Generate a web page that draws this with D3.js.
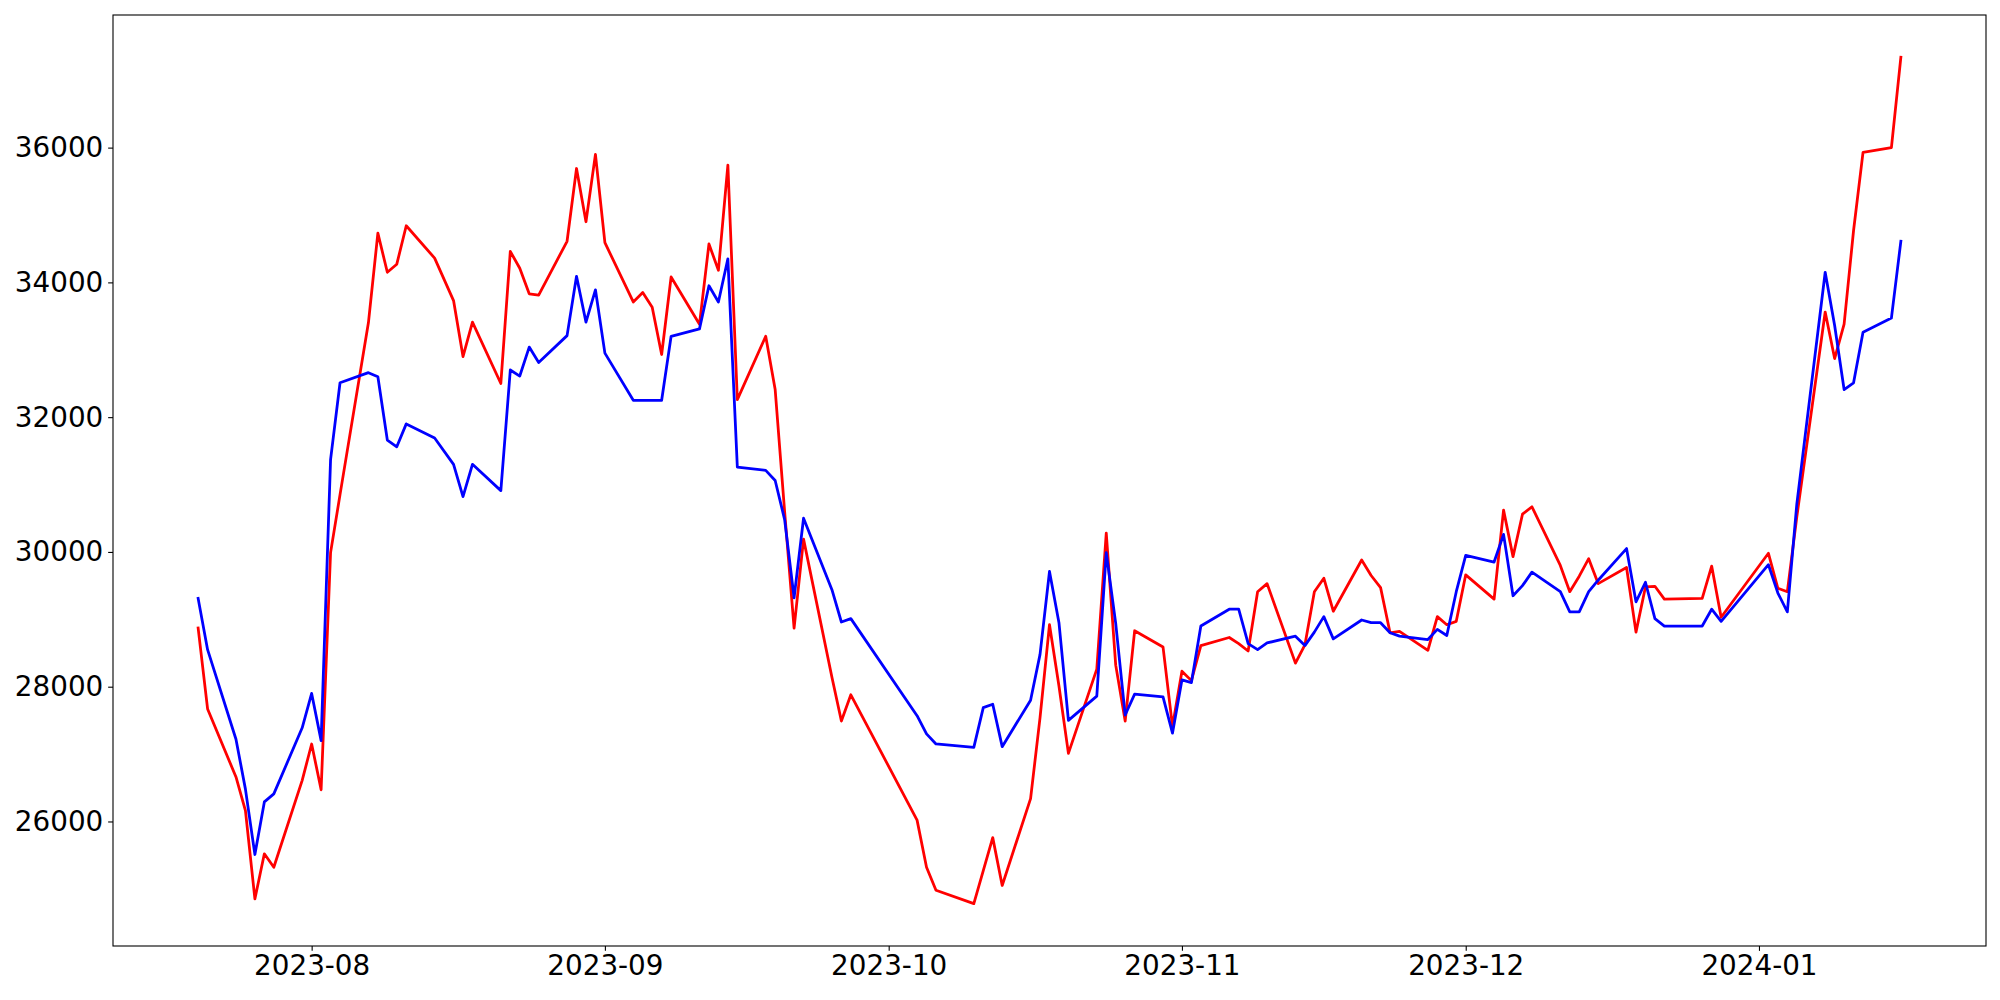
<!DOCTYPE html>
<html>
<head>
<meta charset="utf-8">
<script src="https://cdn.jsdelivr.net/npm/d3@7"></script>
<style>
  html, body { margin: 0; padding: 0; background: #fff; }
  svg { display: block; }
  .tick text { font-family: "DejaVu Sans", sans-serif; font-size: 27.8px; fill: #000; }
</style>
</head>
<body>
<svg id="chart" width="2000" height="1000"></svg>
<script>
const dates = [
  "2023-07-20","2023-07-21","2023-07-24","2023-07-25","2023-07-26","2023-07-27","2023-07-28","2023-07-31",
  "2023-08-01","2023-08-02","2023-08-03","2023-08-04","2023-08-07","2023-08-08","2023-08-09","2023-08-10",
  "2023-08-11","2023-08-14","2023-08-16","2023-08-17","2023-08-18","2023-08-21","2023-08-22","2023-08-23",
  "2023-08-24","2023-08-25","2023-08-28","2023-08-29","2023-08-30","2023-08-31",
  "2023-09-01","2023-09-04","2023-09-05","2023-09-06","2023-09-07","2023-09-08","2023-09-11","2023-09-12",
  "2023-09-13","2023-09-14","2023-09-15","2023-09-18","2023-09-19","2023-09-20","2023-09-21","2023-09-22",
  "2023-09-25","2023-09-26","2023-09-27",
  "2023-10-04","2023-10-05","2023-10-06","2023-10-10","2023-10-11","2023-10-12","2023-10-13","2023-10-16",
  "2023-10-17","2023-10-18","2023-10-19","2023-10-20","2023-10-23","2023-10-24","2023-10-25","2023-10-26",
  "2023-10-27","2023-10-30","2023-10-31",
  "2023-11-01","2023-11-02","2023-11-03","2023-11-06","2023-11-07","2023-11-08","2023-11-09","2023-11-10",
  "2023-11-13","2023-11-14","2023-11-15","2023-11-16","2023-11-17","2023-11-20","2023-11-21","2023-11-22",
  "2023-11-23","2023-11-24","2023-11-27","2023-11-28","2023-11-29","2023-11-30",
  "2023-12-01","2023-12-04","2023-12-05","2023-12-06","2023-12-07","2023-12-08","2023-12-11","2023-12-12",
  "2023-12-13","2023-12-14","2023-12-15","2023-12-18","2023-12-19","2023-12-20","2023-12-21","2023-12-22",
  "2023-12-26","2023-12-27","2023-12-28",
  "2024-01-02","2024-01-03","2024-01-04","2024-01-05","2024-01-08","2024-01-09","2024-01-10","2024-01-11",
  "2024-01-12","2024-01-15","2024-01-16"
];

const redSeries = [
  28870,27670,26660,26160,24850,25520,25320,26610,
  27150,26470,29990,30850,33400,34730,34150,34270,
  34840,34360,33730,32900,33410,32500,34460,34210,
  33830,33810,34610,35690,34900,35900,
  34590,33710,33850,33630,32930,34080,33380,34570,
  34180,35740,32260,33200,32410,30600,28870,30190,
  28140,27490,27880,
  26020,25320,24980,24780,25270,25760,25050,26340,
  27540,28920,28010,27010,28260,30280,28320,27490,
  28830,28590,27410,
  28230,28090,28610,28730,28640,28530,29410,29530,
  28350,28620,29410,29610,29120,29880,29650,29470,
  28800,28820,28540,29040,28920,28970,
  29660,29300,30620,29930,30560,30670,29800,29410,
  29640,29900,29530,29770,28810,29480,29490,29300,
  29310,29790,29030,
  29980,29460,29410,30520,33560,32870,33380,34770,
  35930,36000,37340
];

const blueSeries = [
  29310,28550,27220,26480,25510,26290,26410,27390,
  27900,27200,31370,32510,32660,32600,31660,31560,
  31900,31690,31300,30820,31300,30910,32700,32610,
  33040,32810,33210,34090,33410,33890,
  32950,32250,32250,32250,32250,33200,33310,33950,
  33710,34350,31260,31210,31060,30480,29320,30500,
  29440,28960,29010,
  27570,27300,27150,27100,27690,27740,27110,27800,
  28480,29710,28950,27500,27860,29990,28940,27580,
  27890,27850,27310,
  28100,28060,28900,29150,29150,28640,28550,28650,
  28750,28610,28810,29040,28710,28990,28950,28950,
  28800,28750,28700,28850,28760,29410,
  29950,29850,30260,29350,29500,29700,29410,29110,
  29110,29410,29580,30050,29260,29550,29010,28900,
  28900,29150,28970,
  29810,29390,29110,30710,34150,33360,32410,32510,
  33260,33470,34610
];

const yTickValues = [26000, 28000, 30000, 32000, 34000, 36000];
const xTickLabels = ["2023-08","2023-09","2023-10","2023-11","2023-12","2024-01"];

const parse = d3.timeParse("%Y-%m-%d");
const parseMonth = d3.timeParse("%Y-%m");
const fmt = d3.timeFormat("%Y-%m");

const W = 2000, H = 1000;
const M = { left: 113, right: 14, top: 15, bottom: 54 };
const iw = W - M.left - M.right;
const ih = H - M.top - M.bottom;

const svg = d3.select("#chart");
const g = svg.append("g").attr("transform", `translate(${M.left},${M.top})`);

const xs = dates.map(parse);
const xExt = d3.extent(xs);
const xPad = (xExt[1] - xExt[0]) * 0.05;
const x = d3.scaleTime()
  .domain([new Date(+xExt[0] - xPad), new Date(+xExt[1] + xPad)])
  .range([0, iw]);

const allY = redSeries.concat(blueSeries);
const yExt = d3.extent(allY);
const yPad = (yExt[1] - yExt[0]) * 0.05;
const y = d3.scaleLinear()
  .domain([yExt[0] - yPad, yExt[1] + yPad])
  .range([ih, 0]);

const redData = xs.map((d, i) => ({ d, v: redSeries[i] }));
const blueData = xs.map((d, i) => ({ d, v: blueSeries[i] }));

const line = d3.line().x(p => x(p.d)).y(p => y(p.v));

g.append("path").datum(redData)
  .attr("fill", "none").attr("stroke", "#ff0000")
  .attr("stroke-width", 2.78).attr("stroke-linejoin", "round").attr("stroke-linecap", "square")
  .attr("d", line);

g.append("path").datum(blueData)
  .attr("fill", "none").attr("stroke", "#0000ff")
  .attr("stroke-width", 2.78).attr("stroke-linejoin", "round").attr("stroke-linecap", "square")
  .attr("d", line);

// axes
const xAxis = d3.axisBottom(x)
  .tickValues(xTickLabels.map(parseMonth))
  .tickFormat(fmt)
  .tickSize(4.86)
  .tickPadding(4.86);
const yAxis = d3.axisLeft(y)
  .tickValues(yTickValues)
  .tickFormat(d3.format("d"))
  .tickSize(4.86)
  .tickPadding(4.86);

const gx = g.append("g").attr("transform", `translate(0,${ih})`).call(xAxis);
const gy = g.append("g").call(yAxis);
[gx, gy].forEach(a => {
  a.select(".domain").remove();
  a.selectAll(".tick line").attr("stroke", "#000").attr("stroke-width", 1.1);
});

// frame
g.append("rect").attr("x", 0).attr("y", 0).attr("width", iw).attr("height", ih)
  .attr("fill", "none").attr("stroke", "#000").attr("stroke-width", 1.1);
</script>
</body>
</html>
